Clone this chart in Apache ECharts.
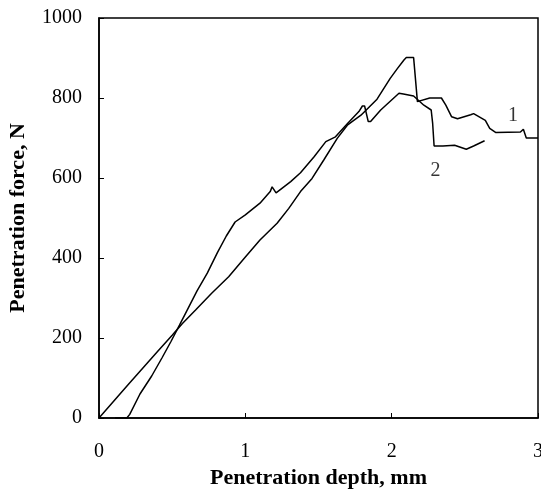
<!DOCTYPE html>
<html><head><meta charset="utf-8">
<script src="https://cdn.jsdelivr.net/npm/echarts@6/dist/echarts.min.js"></script>
<style>html,body{margin:0;padding:0;background:#fff}#c{width:541px;height:497px}</style>
</head><body><div id="c"></div>
<script>
const xTicks = [0, 1, 2, 3];
const yTicks = [0, 200, 400, 600, 800, 1000];
const curve1 = [[0,0],[0.1,42],[0.2,84],[0.3,125],[0.4,166],[0.5,207],[0.57,236],[0.66,270],[0.77,312],[0.886,353],[0.99,398],[1.1,445],[1.217,487],[1.297,524],[1.377,566],[1.456,599],[1.536,645],[1.628,699],[1.697,732],[1.79,757],[1.9,797],[1.99,849],[2.04,874],[2.084,895],[2.1,901],[2.15,901],[2.176,791],[2.26,800],[2.34,800],[2.37,782],[2.41,753],[2.45,748],[2.54,758],[2.56,761],[2.64,744],[2.67,724],[2.71,714],[2.88,715],[2.9,722],[2.92,700],[3.0,700]];
const curve2 = [[0.11,0],[0.19,0],[0.21,9],[0.28,60],[0.36,105],[0.43,150],[0.49,190],[0.55,232],[0.6,268],[0.67,318],[0.74,362],[0.81,414],[0.87,455],[0.93,490],[1.0,508],[1.1,537],[1.17,566],[1.183,578],[1.21,563],[1.31,591],[1.377,613],[1.47,653],[1.55,691],[1.616,703],[1.7,737],[1.776,766],[1.8,780],[1.815,780],[1.84,741],[1.856,741],[1.925,770],[2.05,812],[2.08,810],[2.15,805],[2.22,782],[2.27,770],[2.28,737],[2.29,680],[2.35,680],[2.43,682],[2.51,672],[2.56,680],[2.635,693]];
const curveLabels = ['1', '2'];
const labelPos = [[2.83,755],[2.30,617]];

const chart = echarts.init(document.getElementById('c'));
const font = '"Liberation Serif", "Times New Roman", serif';
chart.setOption({
  animation: false,
  backgroundColor: '#fff',
  grid: {left: 99, right: 3, top: 18, bottom: 79, containLabel: false, outerBoundsMode: 'none',
         show: true, borderColor: '#000', borderWidth: 1.5, backgroundColor: 'transparent'},
  xAxis: {
    type: 'value', min: 0, max: 3, interval: 1,
    name: 'Penetration depth, mm', nameLocation: 'middle', nameGap: 49,
    nameTextStyle: {fontFamily: font, fontWeight: 'bold', fontSize: 22, color: '#000'},
    axisLine: {show: true, lineStyle: {color: '#000', width: 1.5}},
    axisTick: {show: true, inside: true, length: 5, lineStyle: {color: '#000', width: 1}},
    axisLabel: {fontFamily: font, fontSize: 20, color: '#000', margin: 24, formatter: v => xTicks.includes(v) ? String(v) : ''},
    splitLine: {show: false}
  },
  yAxis: {
    type: 'value', min: 0, max: 1000, interval: 200,
    name: 'Penetration force, N', nameLocation: 'middle', nameGap: 70,
    nameTextStyle: {fontFamily: font, fontWeight: 'bold', fontSize: 22, color: '#000'},
    axisLine: {show: true, lineStyle: {color: '#000', width: 1.5}},
    axisTick: {show: true, inside: true, length: 5, lineStyle: {color: '#000', width: 1}},
    axisLabel: {fontFamily: font, fontSize: 20, color: '#000', margin: 17, formatter: v => yTicks.includes(v) ? String(v) : ''},
    splitLine: {show: false}
  },
  series: [
    {type: 'line', data: curve1, symbol: 'none', lineStyle: {color: '#000', width: 1.5}},
    {type: 'line', data: curve2, symbol: 'none', lineStyle: {color: '#000', width: 1.5}},
    {type: 'scatter', symbolSize: 0, silent: true,
     data: labelPos.map((p, i) => ({value: p, name: curveLabels[i]})),
     label: {show: true, position: 'inside', formatter: p => p.name, fontFamily: font, fontSize: 20, color: '#000'}}
  ]
});
</script></body></html>
